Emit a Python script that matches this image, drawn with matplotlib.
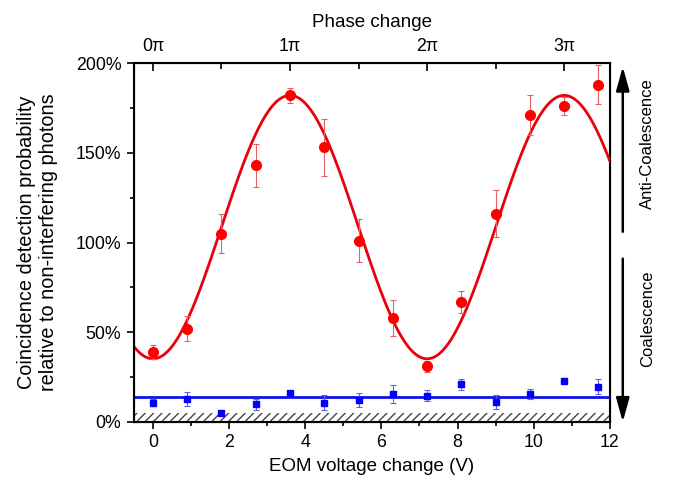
import numpy as np
import matplotlib.pyplot as plt
from matplotlib.ticker import MultipleLocator, FuncFormatter

plt.rcParams['font.family'] = ['Liberation Sans', 'DejaVu Sans']

# EOM voltage steps (V)
voltage = [0, 0.9, 1.8, 2.7, 3.6, 4.5, 5.4, 6.3, 7.2, 8.1, 9.0, 9.9, 10.8, 11.7]

# interfering photons (red) and reference (blue), in %
red_vals = [39, 52, 105, 143, 182, 153, 101, 58, 31, 67, 116, 171, 176, 188]
red_err = [4, 7, 11, 12, 4, 16, 12, 10, 3, 6, 13, 11, 5, 11]
blue_vals = [10.8, 12.8, 4.8, 9.8, 16, 10.8, 12.3, 15.6, 14.7, 21, 11, 15.6, 23, 19.7]
blue_err = [2, 4, 1, 3, 1.5, 4, 4, 5, 3, 3, 4, 3, 1.5, 4]

# fit parameters
fit_mean, fit_amp, fit_period = 108.6, 73.4, 7.2
blue_level = 14
background = 5

phase_ticks = ['0π', '1π', '2π', '3π']
volts_per_pi = 3.6

fig = plt.figure(figsize=(6.83, 4.87), dpi=100)
ax = fig.add_axes([0.196, 0.1335, 0.697, 0.737])

ax.fill_between([-0.5, 12], 0, background, facecolor='white', edgecolor='#444444',
                hatch='////', linewidth=0, zorder=1)

xf = np.linspace(-0.5, 12, 400)
yf = fit_mean - fit_amp * np.cos(2 * np.pi * xf / fit_period)
ax.plot(xf, yf, color='#e8000b', lw=2, zorder=3)
ax.axhline(blue_level, color='#1010ee', lw=2, zorder=3)

ax.errorbar(voltage, red_vals, yerr=red_err, fmt='o', color='#ff0000', ms=7,
            ecolor='#e86060', elinewidth=0.8, capsize=2.5, capthick=0.8, zorder=4)
ax.errorbar(voltage, blue_vals, yerr=blue_err, fmt='s', color='#0000ff', ms=4.5,
            ecolor='#6060e0', elinewidth=0.8, capsize=2.5, capthick=0.8, zorder=4)

ax.set_xlim(-0.5, 12)
ax.set_ylim(0, 200)
ax.xaxis.set_major_locator(MultipleLocator(2))
ax.xaxis.set_minor_locator(MultipleLocator(1))
ax.yaxis.set_major_locator(MultipleLocator(50))
ax.yaxis.set_minor_locator(MultipleLocator(25))
ax.yaxis.set_major_formatter(FuncFormatter(lambda v, p: f'{v:.0f}%'))
ax.tick_params(which='both', direction='out', labelsize=12.8, right=False, top=False, pad=4)
ax.tick_params(which='major', length=5, width=1.2)
ax.tick_params(which='minor', length=3, width=1.2)
for s in ax.spines.values():
    s.set_linewidth(1.5)

ax.set_xlabel('EOM voltage change (V)', fontsize=13.5, labelpad=5)
ax.set_ylabel('Coincidence detection probability\nrelative to non-interfering photons',
              fontsize=14.3)
ax.yaxis.set_label_coords(-0.16, 0.5)

top = ax.twiny()
top.set_xlim(ax.get_xlim())
top.set_xticks([i * volts_per_pi for i in range(4)])
top.set_xticklabels(phase_ticks)
top.set_xticks([(i + 0.5) * volts_per_pi for i in range(3)], minor=True)
top.tick_params(which='both', direction='in', labelsize=12.8, pad=6)
top.tick_params(which='major', length=6, width=1.2)
top.tick_params(which='minor', length=4, width=1.2)
top.set_xlabel('Phase change', fontsize=13.5, labelpad=8)

# side arrows
arrow_style = dict(arrowstyle='-|>,head_width=0.4,head_length=1.45', color='black',
                   lw=1.8, mutation_scale=10, shrinkA=0, shrinkB=0)
ax.annotate('', xy=(1.027, 0.99), xytext=(1.027, 0.53), xycoords='axes fraction',
            textcoords='axes fraction', arrowprops=arrow_style, annotation_clip=False)
ax.annotate('', xy=(1.027, 0.0), xytext=(1.027, 0.455), xycoords='axes fraction',
            textcoords='axes fraction', arrowprops=arrow_style, annotation_clip=False)
ax.text(1.079, 0.775, 'Anti-Coalescence', transform=ax.transAxes, rotation=90,
        ha='center', va='center', fontsize=12)
ax.text(1.079, 0.287, 'Coalescence', transform=ax.transAxes, rotation=90,
        ha='center', va='center', fontsize=12)

fig.savefig('out.png', dpi=100)
